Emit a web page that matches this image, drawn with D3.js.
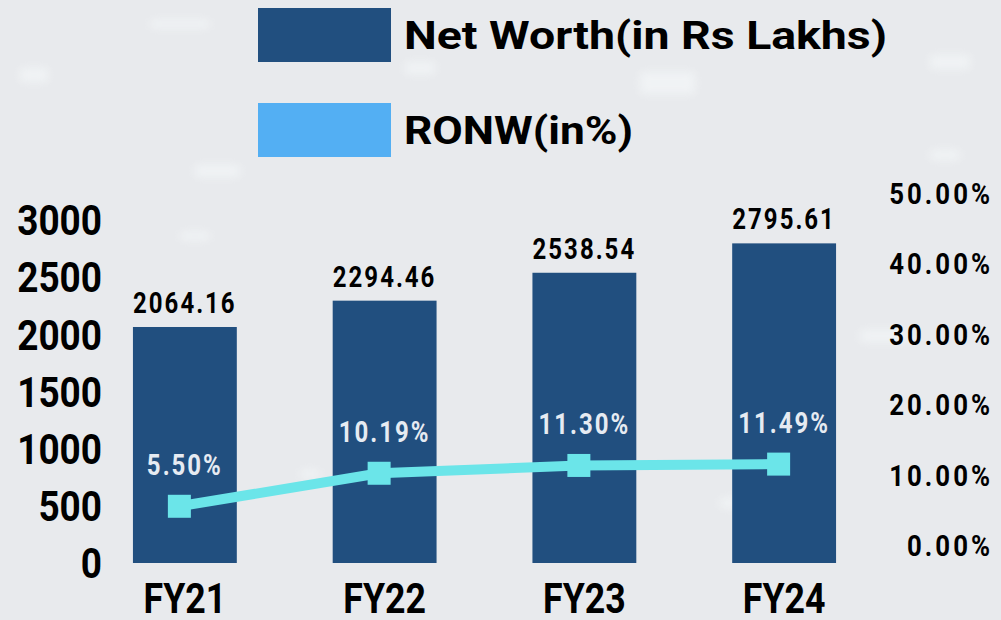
<!DOCTYPE html>
<html>
<head>
<meta charset="utf-8">
<script src="https://cdn.jsdelivr.net/npm/d3@7"></script>
<style>
  html, body { margin: 0; padding: 0; background: #e8eaed; }
  svg { display: block; }
  text { font-family: Roboto, "Open Sans", sans-serif; font-weight: 700; }
</style>
</head>
<body>
<svg id="chart" width="1001" height="620"></svg>
<script>
// ---- data ----
const categories = ["FY21", "FY22", "FY23", "FY24"];
const netWorth = [2064.16, 2294.46, 2538.54, 2795.61];
const ronw = [5.50, 10.19, 11.30, 11.49];
const leftTicks = [0, 500, 1000, 1500, 2000, 2500, 3000];
const rightTicks = [0, 10, 20, 30, 40, 50];
const seriesNames = ["Net Worth(in Rs Lakhs)", "RONW(in%)"];

// ---- styles ----
const barColor = "#214f7f";
const lineColor = "#6be5e9";
const legendLineColor = "#53aff3";

const W = 1001, H = 620;
const svg = d3.select("#chart");

// background
svg.append("rect").attr("width", W).attr("height", H).attr("fill", "#e8eaed");
const defs = svg.append("defs");
defs.append("filter").attr("id", "blur").attr("x", "-50%").attr("y", "-50%").attr("width", "200%").attr("height", "200%")
  .append("feGaussianBlur").attr("stdDeviation", 4);
const glows = [[20,68,28,14],[150,20,60,8],[195,165,45,12],[405,62,30,12],[640,72,55,22],[930,55,40,14],[180,232,30,8],[930,150,30,10],[860,330,50,12],[300,470,20,8],[720,498,20,10]];
svg.append("g").attr("filter", "url(#blur)").attr("opacity", 0.45)
  .selectAll("rect").data(glows).join("rect")
  .attr("x", d => d[0]).attr("y", d => d[1]).attr("width", d => d[2]).attr("height", d => d[3])
  .attr("rx", 4).attr("fill", "#fbfeff");

function condense(sel, s) {
  sel.each(function () {
    const t = d3.select(this);
    const x = +(t.attr("x") || 0);
    t.attr("transform", `translate(${x},0) scale(${s},1) translate(${-x},0)`);
  });
}

// ---- scales ----
const x = d3.scaleBand().domain(categories).range([85, 884]).paddingInner(0.48).paddingOuter(0.24);
const yL = d3.scaleLinear().domain([0, 3000]).range([563, 220]);
const yR = d3.scaleLinear().domain([0, 50]).range([545, 193]);

// ---- left axis ----
const gL = svg.append("g").attr("transform", "translate(102,0)")
  .call(d3.axisLeft(yL).tickValues(leftTicks).tickSize(0).tickPadding(0).tickFormat(d3.format("d")));
gL.select(".domain").remove();
gL.selectAll("text").attr("fill", "#000").attr("font-size", 42).attr("font-weight", 700)
  .attr("font-family", "Roboto").attr("dy", "0.35em");
condense(gL.selectAll("text"), 0.88);

// ---- right axis ----
const gR = svg.append("g").attr("transform", "translate(990,0)")
  .call(d3.axisRight(yR).tickValues(rightTicks).tickSize(0).tickPadding(0).tickFormat(d => d3.format(".2f")(d) + "%"));
gR.select(".domain").remove();
gR.selectAll("text").attr("fill", "#000").attr("font-size", 30).attr("font-weight", 700)
  .attr("font-family", "Roboto").attr("text-anchor", "end").attr("letter-spacing", "3.5px").attr("dy", "0.35em")
  .attr("x", 3);
condense(gR.selectAll("text"), 0.86);

// ---- bars ----
svg.append("g").selectAll("rect").data(categories).join("rect")
  .attr("x", d => x(d)).attr("width", x.bandwidth())
  .attr("y", (d, i) => yL(netWorth[i])).attr("height", (d, i) => yL(0) - yL(netWorth[i]))
  .attr("fill", barColor);

// bar value labels
const vl = svg.append("g").selectAll("text").data(categories).join("text")
  .attr("x", d => x(d) + x.bandwidth() / 2)
  .attr("y", (d, i) => yL(netWorth[i]) - 14)
  .attr("text-anchor", "middle").attr("font-size", 30).attr("letter-spacing", "2.5px")
  .attr("fill", "#000")
  .text((d, i) => d3.format(".2f")(netWorth[i]));
condense(vl, 0.8);

// ---- x axis labels ----
const xl = svg.append("g").selectAll("text").data(categories).join("text")
  .attr("x", d => x(d) + x.bandwidth() / 2)
  .attr("y", 613)
  .attr("text-anchor", "middle").attr("font-size", 42).attr("fill", "#000")
  .text(d => d);
condense(xl, 0.85);

// ---- line ----
const lx = d => x(d) + x.bandwidth() / 2 - 5.5;
const line = d3.line().x((d, i) => lx(categories[i])).y(d => yR(d));
svg.append("path").datum(ronw).attr("d", line)
  .attr("fill", "none").attr("stroke", lineColor).attr("stroke-width", 10);
svg.append("g").selectAll("rect").data(ronw).join("rect")
  .attr("x", (d, i) => lx(categories[i]) - 11.5).attr("y", d => yR(d) - 11.5)
  .attr("width", 23).attr("height", 23).attr("fill", lineColor);

// percent labels
const pl = svg.append("g").selectAll("text").data(ronw).join("text")
  .attr("x", (d, i) => x(categories[i]) + x.bandwidth() / 2)
  .attr("y", d => yR(d) - 31)
  .attr("text-anchor", "middle").attr("font-size", 30).attr("letter-spacing", "2.5px")
  .attr("fill", "#e6ebf2")
  .text(d => d3.format(".2f")(d) + "%");
condense(pl, 0.8);

// ---- legend ----
const legendColors = [barColor, legendLineColor];
const legendWidths = [483, 229];
const lg = svg.append("g").selectAll("g").data(seriesNames).join("g")
  .attr("transform", (d, i) => `translate(258,${8 + i * 95})`);
lg.append("rect").attr("width", 133).attr("height", 54).attr("fill", (d, i) => legendColors[i]);
lg.append("text").attr("x", 146).attr("y", 41).attr("font-size", 39).attr("fill", "#000")
  .attr("textLength", (d, i) => legendWidths[i]).attr("lengthAdjust", "spacingAndGlyphs")
  .text(d => d);
</script>
</body>
</html>
